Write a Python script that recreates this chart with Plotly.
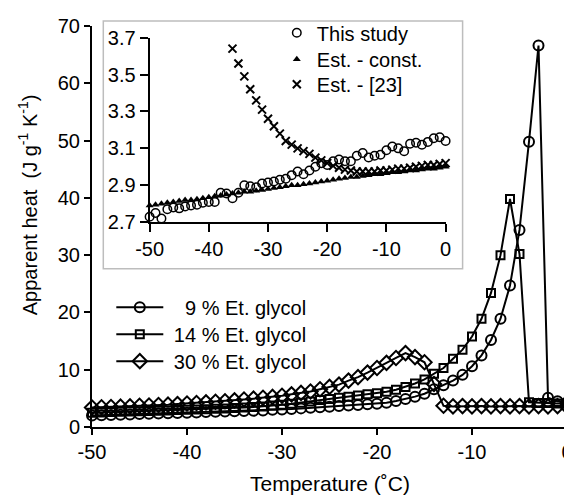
import plotly.graph_objects as go

# ---------------- data ----------------
temps = [-50, -49, -48, -47, -46, -45, -44, -43, -42, -41,
         -40, -39, -38, -37, -36, -35, -34, -33, -32, -31,
         -30, -29, -28, -27, -26, -25, -24, -23, -22, -21,
         -20, -19, -18, -17, -16, -15, -14, -13, -12, -11,
         -10, -9, -8, -7, -6, -5, -4, -3, -2, -1, 0]

glycol9 = [2.0, 2.05, 2.1, 2.15, 2.2, 2.25, 2.3, 2.35, 2.4, 2.45,
           2.5, 2.55, 2.6, 2.65, 2.7, 2.75, 2.8, 2.85, 2.9, 3.0,
           3.05, 3.15, 3.25, 3.35, 3.45, 3.55, 3.65, 3.75, 3.85, 3.95,
           4.05, 4.25, 4.55, 4.9, 5.3, 5.8, 6.6, 7.3, 8.1, 9.1,
           10.6, 12.5, 15.2, 18.9, 24.7, 34.4, 49.8, 66.6, 5.1, 4.5, 4.3]

glycol14 = [2.5, 2.55, 2.6, 2.65, 2.7, 2.75, 2.8, 2.85, 2.9, 2.95,
            3.0, 3.05, 3.1, 3.2, 3.25, 3.3, 3.4, 3.5, 3.6, 3.75,
            3.9, 4.05, 4.25, 4.45, 4.7, 4.9, 5.1, 5.3, 5.5, 5.7,
            5.9, 6.15, 6.5, 7.0, 7.6, 8.3, 9.3, 10.3, 11.9, 13.5,
            15.8, 18.9, 23.4, 30.0, 39.8, 30.2, 4.3, 4.2, 4.2, 4.1, 4.1]

glycol30 = [3.4, 3.45, 3.5, 3.55, 3.6, 3.7, 3.75, 3.85, 3.9, 4.0,
            4.1, 4.2, 4.3, 4.4, 4.5, 4.65, 4.8, 4.95, 5.1, 5.25,
            5.45, 5.7, 5.95, 6.2, 6.6, 7.0, 7.4, 8.1, 8.7, 9.5,
            10.3, 11.2, 12.05, 12.9, 12.2, 11.3, 7.5, 3.7, 3.6, 3.65,
            3.6, 3.65, 3.6, 3.65, 3.6, 3.65, 3.6, 3.65, 3.6, 3.65, 3.6]

this_study = [2.73, 2.75, 2.72, 2.77, 2.78, 2.775, 2.785, 2.79, 2.795, 2.805,
              2.81, 2.81, 2.86, 2.855, 2.83, 2.86, 2.90, 2.895, 2.89, 2.91,
              2.915, 2.92, 2.93, 2.935, 2.955, 2.975, 2.96, 2.98, 3.0, 3.02,
              3.01, 3.03, 3.04, 3.03, 3.03, 3.06, 3.075, 3.05, 3.06, 3.065,
              3.09, 3.11, 3.1, 3.085, 3.125, 3.13, 3.12, 3.135, 3.155, 3.16, 3.14]

est_const = [2.79, 2.795, 2.8, 2.805, 2.81, 2.815, 2.82, 2.82, 2.825, 2.83,
             2.835, 2.84, 2.845, 2.85, 2.855, 2.86, 2.865, 2.865, 2.87, 2.875,
             2.88, 2.885, 2.89, 2.895, 2.9, 2.9, 2.905, 2.91, 2.915, 2.92,
             2.925, 2.93, 2.935, 2.94, 2.945, 2.945, 2.95, 2.955, 2.96, 2.96,
             2.965, 2.97, 2.97, 2.975, 2.98, 2.98, 2.985, 2.99, 2.99, 2.995, 3.0]

est23_temps = [-36, -35, -34, -33, -32, -31, -30, -29, -28, -27,
               -26, -25, -24, -23, -22, -21, -20, -19, -18, -17,
               -16, -15, -14, -13, -12, -11, -10, -9, -8, -7,
               -6, -5, -4, -3, -2, -1, 0]
est23 = [3.64, 3.56, 3.49, 3.42, 3.36, 3.31, 3.26, 3.22, 3.18, 3.14,
         3.12, 3.10, 3.085, 3.07, 3.05, 3.035, 3.02, 3.005, 2.995, 2.985,
         2.98, 2.975, 2.975, 2.975, 2.975, 2.98, 2.98, 2.985, 2.99, 2.99,
         2.995, 3.0, 3.005, 3.01, 3.01, 3.015, 3.02]

x_tickvals = [-50, -40, -30, -20, -10, 0]
x_ticktext = ["-50", "-40", "-30", "-20", "-10", "0"]
main_yticks = [0, 10, 20, 30, 40, 50, 60, 70]
inset_yticks = [2.7, 2.9, 3.1, 3.3, 3.5, 3.7]
inset_yticktext = ["2.7", "2.9", "3.1", "3.3", "3.5", "3.7"]

# ---------------- layout helpers (screen pixels -> paper) ----------------
OFF = 8  # page body margin
W, H = 572 - OFF, 496 - OFF
L, R, T, B = 91.7 - OFF, 5.3, 25.7 - OFF, 68.5
PW, PH = W - L - R, H - T - B


def px(x):
    return (x - OFF - L) / PW


def py(y):
    return (H - B - (y - OFF)) / PH


FONT = "Liberation Sans, Arial, sans-serif"
BLACK = "#000000"
NB = "\u00a0"

fig = go.Figure()

main_specs = [
    (NB * 3 + "9 % Et. glycol", glycol9, "circle-open", 10, "legend"),
    (NB + "14 % Et. glycol", glycol14, "square-open", 8, "legend3"),
    (NB + "30 % Et. glycol", glycol30, "diamond-open", 11, "legend4"),
]
for name, vals, sym, size, lg in main_specs:
    fig.add_trace(go.Scatter(
        x=temps, y=vals, name=name, mode="lines+markers",
        line=dict(color=BLACK, width=2),
        marker=dict(symbol=sym, size=size, color=BLACK,
                    line=dict(color=BLACK, width=2)),
        cliponaxis=False, xaxis="x", yaxis="y", legend=lg, showlegend=True,
    ))

fig.add_trace(go.Scatter(
    x=temps, y=est_const, name="Est. - const.", mode="markers",
    marker=dict(symbol="triangle-up", size=7, color=BLACK),
    cliponaxis=False, xaxis="x2", yaxis="y2", legend="legend5",
    showlegend=True,
))
fig.add_trace(go.Scatter(
    x=est23_temps, y=est23, name="Est. - [23]", mode="markers",
    marker=dict(symbol="x-thin-open", size=8, color=BLACK,
                line=dict(color=BLACK, width=2)),
    cliponaxis=False, xaxis="x2", yaxis="y2", legend="legend6",
    showlegend=True,
))
fig.add_trace(go.Scatter(
    x=temps, y=this_study, name="This study", mode="markers",
    marker=dict(symbol="circle-open", size=8.5, color=BLACK,
                line=dict(color=BLACK, width=1.5)),
    cliponaxis=False, xaxis="x2", yaxis="y2", legend="legend2",
    showlegend=True,
))

axis_common = dict(showgrid=False, zeroline=False, showline=True,
                   linecolor=BLACK, ticks="outside", tickcolor=BLACK,
                   ticklabeloverflow="allow",
                   tickfont=dict(family=FONT, size=20, color=BLACK))

legend_font = dict(family=FONT, size=20, color=BLACK)


def leg(xs, row_center, width):
    return dict(x=px(xs), y=py(row_center - 21), xanchor="left",
                yanchor="top", bgcolor="rgba(0,0,0,0)", itemwidth=width,
                font=legend_font, visible=True)


legends = {
    "legend": leg(111, 309, 47),
    "legend3": leg(111, 336, 47),
    "legend4": leg(111, 363, 47),
    "legend2": leg(276.5, 34, 30),
    "legend5": leg(276.5, 60.5, 30),
    "legend6": leg(276.5, 85.5, 30),
}

fig.update_layout(
    width=W, height=H, showlegend=True,
    margin=dict(l=L, r=R, t=T, b=B, autoexpand=False),
    paper_bgcolor="white", plot_bgcolor="white",
    font=dict(family=FONT, size=20, color=BLACK),
    xaxis=dict(range=[-50, 0], tickvals=x_tickvals, ticktext=x_ticktext,
               linewidth=2, tickwidth=2, ticklen=6, domain=[0, 1],
               **axis_common),
    yaxis=dict(range=[0, 70], tickvals=main_yticks, linewidth=2,
               tickwidth=2, ticklen=6, domain=[0, 1], **axis_common),
    xaxis2=dict(range=[-50, 0], tickvals=x_tickvals, ticktext=x_ticktext,
                linewidth=2, tickwidth=2, ticklen=8, anchor="y2",
                domain=[px(149.3), px(445.3)], **axis_common),
    yaxis2=dict(range=[2.7, 3.7], tickvals=inset_yticks,
                ticktext=inset_yticktext,
                linewidth=2, tickwidth=2, ticklen=8, anchor="x2",
                domain=[py(222.3), py(37.3)], **axis_common),
    shapes=[dict(type="rect", xref="paper", yref="paper",
                 x0=px(103), x1=px(462.3), y0=py(269), y1=py(20.7),
                 line=dict(color="#bdbdbd", width=1.5), layer="below")],
    annotations=[
        dict(text="Apparent heat" + NB + NB + "(J g<sup>-1</sup> K<sup>-1</sup>)",
             xref="paper", yref="paper", x=px(28), y=py(205),
             textangle=-90, showarrow=False, xanchor="center", yanchor="middle",
             font=dict(family=FONT, size=20, color=BLACK)),
        dict(text="Temperature (\u02daC)", xref="paper", yref="paper",
             x=px(330), y=py(484), showarrow=False,
             xanchor="center", yanchor="middle",
             font=dict(family=FONT, size=21, color=BLACK)),
    ],
    **legends,
)

fig.write_html("out.html")
